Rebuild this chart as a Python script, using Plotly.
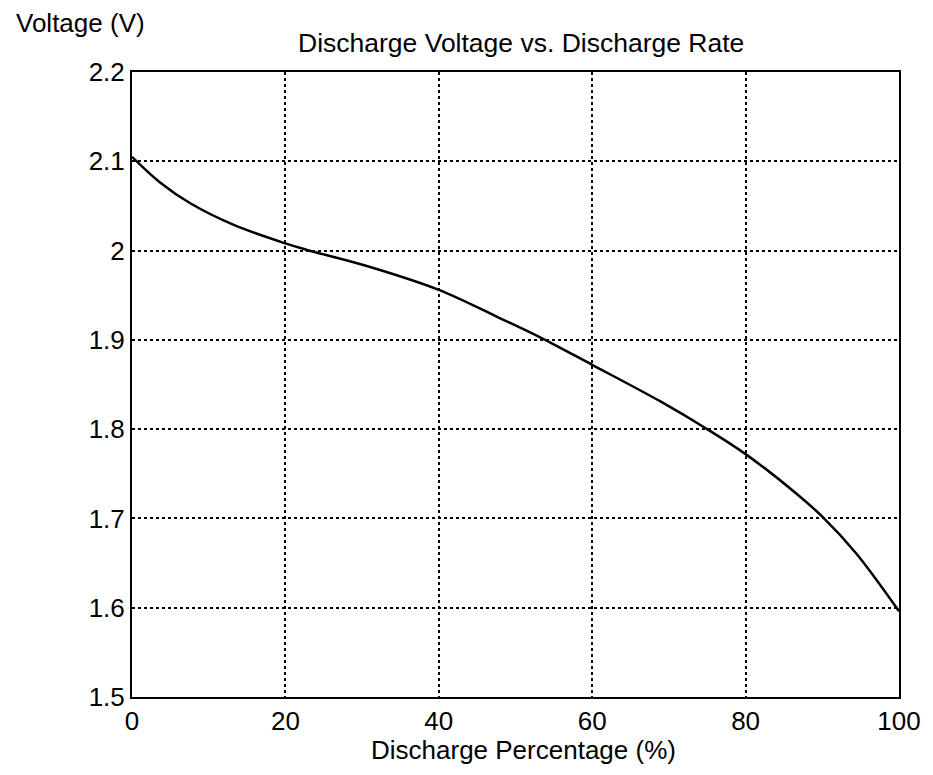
import plotly.graph_objects as go

discharge_pct = [0, 3.7, 7.6, 13.2, 20, 22.7, 30.5, 40, 47.8, 53.4, 60, 68.9, 74.8, 80, 86.6, 90, 94.4, 100]
voltage = [2.105, 2.076, 2.053, 2.029, 2.008, 2.001, 1.983, 1.956, 1.925, 1.902, 1.872, 1.831, 1.801, 1.772, 1.728, 1.702, 1.661, 1.596]

x_ticks = [0, 20, 40, 60, 80, 100]
y_ticks = [1.5, 1.6, 1.7, 1.8, 1.9, 2.0, 2.1, 2.2]
y_tick_text = ["1.5", "1.6", "1.7", "1.8", "1.9", "2", "2.1", "2.2"]

title_text = "Discharge Voltage vs. Discharge Rate"
x_title = "Discharge Percentage (%)"
y_title = "Voltage (V)"

FONT = "Liberation Sans, Arial, sans-serif"
W, H = 933, 775
L, R, T, B = 132, 29, 72, 78
PW, PH = W - L - R, H - T - B

def px_x(px):
    return (px - L) / PW

def px_y(py):
    return (H - B - py) / PH

fig = go.Figure()
fig.add_trace(go.Scatter(
    x=discharge_pct, y=voltage, mode="lines",
    line=dict(color="black", width=2.5, shape="spline", smoothing=1.0),
    showlegend=False, hoverinfo="skip",
))

axis_common = dict(
    showline=True, linecolor="black", linewidth=2, mirror=True,
    showgrid=True, gridcolor="black", gridwidth=2.2, griddash="dot",
    zeroline=False, ticks="",
    tickfont=dict(family=FONT, size=26, color="black"),
)

fig.update_xaxes(range=[0, 100], tickvals=x_ticks, ticklabelstandoff=0, **axis_common)
fig.update_yaxes(range=[1.5, 2.2], tickvals=y_ticks, ticktext=y_tick_text, ticklabelstandoff=0, **axis_common)

annotations = [
    dict(text=title_text, x=px_x(523.5), y=px_y(43), xref="paper", yref="paper",
         xanchor="center", yanchor="middle", showarrow=False,
         font=dict(family=FONT, size=26.5, color="black")),
    dict(text=y_title, x=px_x(13), y=px_y(23), xref="paper", yref="paper",
         xanchor="left", yanchor="middle", showarrow=False,
         font=dict(family=FONT, size=26, color="black")),
    dict(text=x_title, x=px_x(526), y=px_y(750), xref="paper", yref="paper",
         xanchor="center", yanchor="middle", showarrow=False,
         font=dict(family=FONT, size=26, color="black")),
]

fig.update_layout(
    width=W, height=H,
    margin=dict(l=L, r=R, t=T, b=B),
    paper_bgcolor="white", plot_bgcolor="white",
    annotations=annotations,
)

fig.write_html("out.html", config={"displayModeBar": False},
               post_script="document.body.style.margin='0';document.body.style.padding='0';")
